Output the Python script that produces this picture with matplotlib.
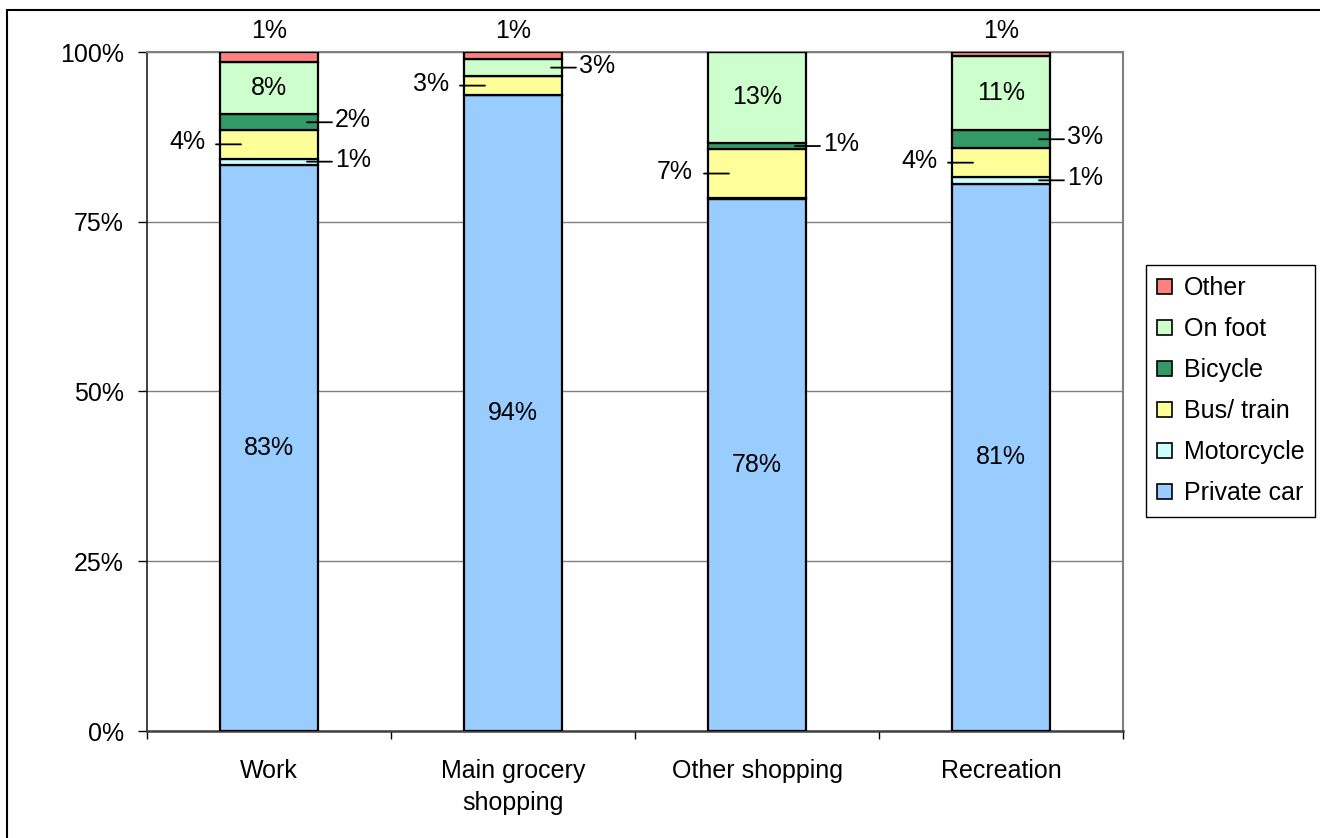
import matplotlib
matplotlib.use("Agg")
import matplotlib.pyplot as plt
import matplotlib.patches as mpatches
import numpy as np

plt.rcParams["font.family"] = ["Liberation Sans", "DejaVu Sans"]
plt.rcParams["font.size"] = 18

categories = ["Work", "Main grocery\nshopping", "Other shopping", "Recreation"]
modes = ["Private car", "Motorcycle", "Bus/ train", "Bicycle", "On foot", "Other"]

# share of trips (%) per travel mode, stacked bottom to top
private_car = [83.4, 93.7, 78.3, 80.6]
motorcycle = [0.9, 0.0, 0.2, 1.0]
bus_train = [4.2, 2.7, 7.2, 4.2]
bicycle = [2.3, 0.0, 0.9, 2.7]
on_foot = [7.8, 2.6, 13.4, 10.9]
other = [1.4, 1.0, 0.0, 0.6]

yticks = [0, 25, 50, 75, 100]

colors = ["#99CCFF", "#CCFFFF", "#FFFF99", "#339966", "#CCFFCC", "#FF8080"]

# where each segment's value label sits: in / left / right / top / None
label_pos = [
    ["in", "right", "left", "right", "in", "top"],
    ["in", None, "left", None, "right", "top"],
    ["in", None, "left", "right", "in", None],
    ["in", "right", "left", "right", "in", "top"],
]

W, H = 1320, 838
fig = plt.figure(figsize=(W / 100, H / 100), dpi=100)
ax = fig.add_axes([147 / W, (H - 731) / H, (1123 - 147) / W, (731 - 52) / H])

x = np.arange(len(categories))
series = [private_car, motorcycle, bus_train, bicycle, on_foot, other]
bottom = np.zeros(len(categories))
starts = []
for name, vals, col in zip(modes, series, colors):
    vals = np.array(vals, dtype=float)
    starts.append(bottom.copy())
    ax.bar(x, vals, 0.405, bottom=bottom, color=col, edgecolor="black",
           linewidth=1.6, label=name, zorder=3)
    bottom += vals

# value labels, with short leader lines for the thin segments
for j, vals in enumerate(series):
    for i, v in enumerate(vals):
        pos = label_pos[i][j]
        if pos is None:
            continue
        txt = f"{v:.0f}%"
        mid = starts[j][i] + v / 2
        if pos == "in":
            ax.text(i, mid, txt, ha="center", va="center", zorder=5)
        elif pos == "top":
            ax.annotate(txt, xy=(i, starts[j][i] + v), xytext=(0, 21),
                        textcoords="offset pixels", ha="center", va="center",
                        annotation_clip=False)
        else:
            s = 1 if pos == "right" else -1
            near, far, tx = (38, 63, 66) if s > 0 else (28, 53, 64)
            ax.annotate("", xy=(i, mid), xytext=(s * far, 0),
                        textcoords="offset pixels",
                        arrowprops=dict(arrowstyle="-", color="black", lw=1.3,
                                        shrinkA=0, shrinkB=near * 0.72),
                        zorder=6)
            ax.annotate(txt, xy=(i, mid), xytext=(s * tx, 2),
                        textcoords="offset pixels",
                        ha="left" if s > 0 else "right", va="center", zorder=6)

ax.set_xlim(-0.5, len(categories) - 0.5)
ax.set_ylim(0, 100)
ax.set_yticks(yticks)
ax.set_yticklabels([f"{t}%" for t in yticks])
ax.set_xticks(x)
ax.set_xticklabels(categories, linespacing=1.42)
ax.set_xticks(np.arange(len(categories) + 1) - 0.5, minor=True)
ax.tick_params(axis="x", which="major", length=0, pad=20)
ax.tick_params(axis="x", which="minor", length=6, width=1, direction="out")
ax.tick_params(axis="y", length=6.5, width=1, direction="out", pad=10)

ax.grid(axis="y", color="#808080", linewidth=1, zorder=0)
ax.set_axisbelow(True)
for side in ["top", "right"]:
    ax.spines[side].set_color("#808080")
    ax.spines[side].set_linewidth(1.5)
ax.spines["left"].set_color("#202020")
ax.spines["left"].set_linewidth(1.2)
ax.spines["bottom"].set_color("#404040")
ax.spines["bottom"].set_linewidth(1.8)

handles = [mpatches.Patch(facecolor=c, edgecolor="black", linewidth=1.2, label=m)
           for m, c in zip(modes, colors)][::-1]
fig.legend(handles=handles, loc="upper left",
           bbox_to_anchor=(1146 / W, 1 - 265 / H), frameon=True, fancybox=False,
           edgecolor="black", framealpha=1, handlelength=0.6, handleheight=0.6,
           handletextpad=0.45, labelspacing=0.68, borderpad=0.45,
           borderaxespad=0).get_frame().set_linewidth(1.0)

# outer chart frame
fig.add_artist(mpatches.Rectangle((7 / W, -0.1), 2, 1 - 10 / H + 0.1,
                                  transform=fig.transFigure, fill=False,
                                  edgecolor="black", linewidth=1.5))

fig.savefig("out.png", dpi=100, facecolor="white")
